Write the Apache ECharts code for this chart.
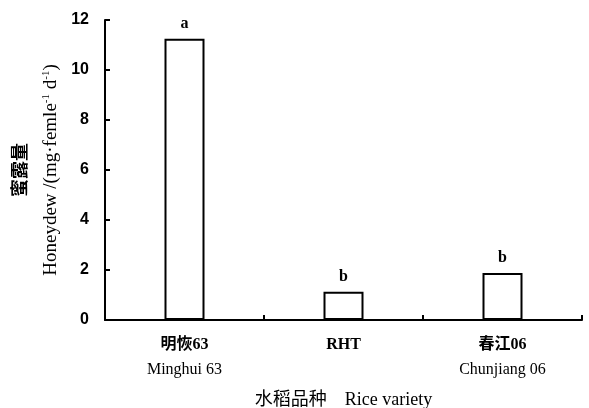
<!DOCTYPE html>
<html><head><meta charset="utf-8">
<script src="https://cdn.jsdelivr.net/npm/echarts@6/dist/echarts.min.js"></script>
<style>html,body{margin:0;padding:0;background:#fff}#c{width:589px;height:408px}</style>
</head><body><div id="c"></div>
<script>
const categoriesCn = ['明恢63', 'RHT', '春江06'];
const categoriesEn = ['Minghui 63', '', 'Chunjiang 06'];
const honeydew = [11.25, 1.13, 1.88];
const sigLetters = ['a', 'b', 'b'];
const yTicks = { min: 0, max: 12, interval: 2 };

const chart = echarts.init(document.getElementById('c'), null, { renderer: 'canvas' });
const serif = '"Liberation Serif", "Noto Sans CJK SC", serif';
chart.setOption({
  backgroundColor: '#fff',
  animation: false,
  grid: { left: 105, right: 7, top: 20, bottom: 88, containLabel: false, outerBoundsMode: 'none' },
  xAxis: {
    type: 'category',
    data: categoriesCn.map((c, i) => c + '|' + categoriesEn[i]),
    axisLine: { lineStyle: { color: '#000', width: 2 } },
    axisTick: { show: true, inside: true, length: 5, lineStyle: { color: '#000', width: 2 } },
    axisLabel: {
      margin: 12,
      formatter: function (v) {
        const p = v.split('|');
        return '{cn|' + p[0] + '}' + (p[1] ? '\n{en|' + p[1] + '}' : '');
      },
      rich: {
        cn: { fontFamily: serif, fontSize: 16, fontWeight: 'bold', color: '#000', lineHeight: 25 },
        en: { fontFamily: serif, fontSize: 16, color: '#000', lineHeight: 25 }
      }
    },
    name: '水稻品种    Rice variety',
    nameLocation: 'middle',
    nameGap: 71,
    nameTextStyle: { fontFamily: serif, fontSize: 18, color: '#000' }
  },
  yAxis: {
    type: 'value',
    min: yTicks.min, max: yTicks.max, interval: yTicks.interval,
    splitLine: { show: false },
    axisLine: { show: true, lineStyle: { color: '#000', width: 2 } },
    axisTick: { show: true, inside: true, length: 5, lineStyle: { color: '#000', width: 2 } },
    axisLabel: { margin: 16, fontFamily: '"Liberation Sans", Arial, sans-serif', fontWeight: 'bold', fontSize: 16, color: '#000' },
    name: '{cn|蜜露量}\n{en|Honeydew /(mg·femle}{sup|-1}{en| d}{sup|-1}{en|)}',
    nameLocation: 'middle',
    nameRotate: 90,
    nameGap: 35,
    nameTextStyle: {
      rich: {
        cn: { fontFamily: '"Noto Sans CJK SC", sans-serif', fontWeight: 'bold', fontSize: 18, color: '#000', lineHeight: 32 },
        en: { fontFamily: serif, fontSize: 19, color: '#000', lineHeight: 32 },
        sup: { fontFamily: serif, fontSize: 11, color: '#000', verticalAlign: 'top', lineHeight: 12, padding: [6, 0, 0, 0] }
      }
    }
  },
  series: [{
    type: 'bar',
    data: honeydew,
    barWidth: 40,
    itemStyle: { color: '#fff', borderColor: '#000', borderWidth: 2 },
    label: {
      show: true,
      position: 'top',
      distance: 7,
      formatter: p => sigLetters[p.dataIndex],
      fontFamily: serif, fontWeight: 'bold', fontSize: 16, color: '#000'
    }
  }]
});
</script></body></html>
